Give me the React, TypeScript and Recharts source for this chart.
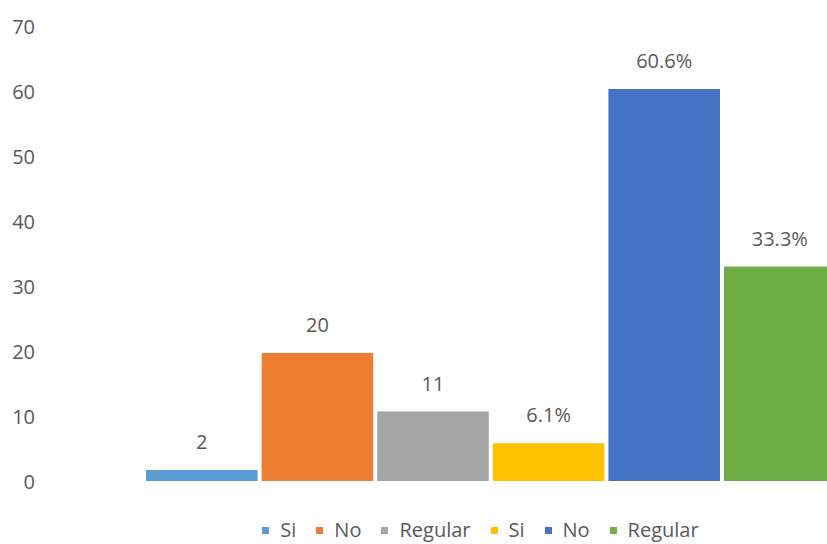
import React from 'react';
import { BarChart, Bar, XAxis, YAxis, Legend, LabelList } from 'recharts';

const categories = ['Grupo'];
const seriesNames = ['Si', 'No', 'Regular', 'Si', 'No', 'Regular'];
const seriesValues = [2, 20, 11, 6.1, 60.6, 33.3];
const seriesLabels = ['2', '20', '11', '6.1%', '60.6%', '33.3%'];
const yTicks = [0, 10, 20, 30, 40, 50, 60, 70];

const colors = ['#5B9BD5', '#ED7D31', '#A5A5A5', '#FFC000', '#4472C4', '#70AD47'];
const textColor = '#595959';
const font = '"Open Sans", "Noto Sans", sans-serif';

const chartData = categories.map((name) => {
  const row: Record<string, string | number> = { name };
  seriesValues.forEach((v, i) => {
    row['s' + i] = v;
  });
  return row;
});

// legend sits flush with the bottom edge, like the original
const LegendContent = () => (
  <div style={{ height: 62, display: 'flex', justifyContent: 'center', alignItems: 'flex-end', paddingLeft: 19 }}>
    <div style={{ display: 'flex', alignItems: 'center', height: 28 }}>
      {seriesNames.map((n, i) => (
        <span key={i} style={{ display: 'flex', alignItems: 'center', marginRight: i < seriesNames.length - 1 ? 20 : 0 }}>
          <span style={{ width: 7, height: 7, background: colors[i], display: 'inline-block', marginRight: 11 }} />
          <span style={{ fontFamily: font, fontSize: 20, color: textColor, lineHeight: '28px' }}>{n}</span>
        </span>
      ))}
    </div>
  </div>
);

export default function App() {
  return (
    <div style={{ position: 'absolute', left: 0, top: 0, width: 827, height: 544, overflow: 'hidden', background: '#fff' }}>
      <BarChart
        width={947}
        height={544}
        data={chartData}
        margin={{ top: 27, right: 5, bottom: 0, left: 0 }}
        barGap={2}
        barSize={113.6}
      >
        <XAxis dataKey="name" hide />
        <YAxis
          width={40}
          domain={[0, 70]}
          ticks={yTicks}
          interval={0}
          axisLine={false}
          tickLine={false}
          tickSize={0}
          tickMargin={5}
          tick={{ fill: textColor, fontSize: 20, fontFamily: font }}
        />
        <Legend verticalAlign="bottom" content={<LegendContent />} />
        {seriesNames.map((n, i) => (
          <Bar
            key={i}
            dataKey={'s' + i}
            name={n}
            fill={colors[i]}
            stroke="#ffffff"
            strokeWidth={2}
            isAnimationActive={false}
          >
            <LabelList
              dataKey={'s' + i}
              position="top"
              offset={20}
              formatter={() => seriesLabels[i]}
              style={{ fill: textColor, fontSize: 20, fontFamily: font }}
            />
          </Bar>
        ))}
      </BarChart>
    </div>
  );
}
